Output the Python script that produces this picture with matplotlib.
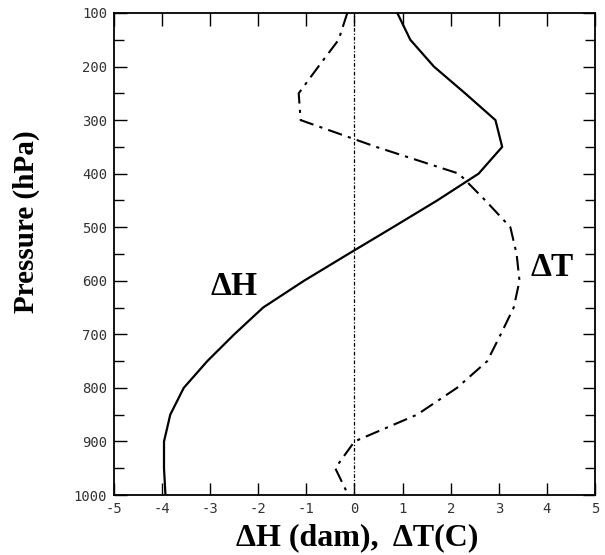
import matplotlib
matplotlib.use('Agg')
import matplotlib.pyplot as plt
from matplotlib.ticker import MultipleLocator

# pressure levels (hPa)
pressure = [100, 150, 200, 250, 300, 350, 400, 450, 500, 550,
            600, 650, 700, 750, 800, 850, 900, 950, 1000]
# height change (dam)
dH = [0.89, 1.16, 1.65, 2.3, 2.93, 3.07, 2.58, 1.72, 0.8, -0.13,
      -1.05, -1.9, -2.5, -3.06, -3.55, -3.83, -3.96, -3.96, -3.93]
# temperature change (C)
dT = [-0.15, -0.33, -0.75, -1.16, -1.12, 0.45, 2.17, 2.72, 3.24, 3.37,
      3.43, 3.31, 3.04, 2.76, 2.13, 1.3, 0.0, -0.4, -0.13]

xticks = [-5, -4, -3, -2, -1, 0, 1, 2, 3, 4, 5]
xticklabels = ['-5', '-4', '-3', '-2', '-1', '0', '1', '2', '3', '4', '5']
yticks = [100, 200, 300, 400, 500, 600, 700, 800, 900, 1000]

serif = ['Liberation Serif', 'DejaVu Serif']

fig = plt.figure(figsize=(6.05, 5.55), dpi=100)
ax = fig.add_axes([0.1884, 0.1081, 0.7951, 0.8685])

ax.plot(dH, pressure, color='black', lw=1.6)
ax.plot(dT, pressure, color='black', lw=1.5, linestyle=(0, (7, 3, 1.5, 3)))
ax.axvline(-0.02, color='black', lw=0.9, linestyle=(0, (3, 1.5, 1, 1.5)))

ax.set_xlim(-5, 5)
ax.set_ylim(1000, 100)
ax.set_xticks(xticks)
ax.set_xticklabels(xticklabels, family='DejaVu Sans Mono', fontsize=10, color='#333333')
ax.set_yticks(yticks)
ax.set_yticklabels([str(v) for v in yticks], family='DejaVu Sans Mono', fontsize=10,
                   color='#333333')
ax.yaxis.set_minor_locator(MultipleLocator(50))

ax.tick_params(which='both', direction='in', top=True, right=True, width=1.0)
ax.tick_params(which='major', length=9, pad=5)
ax.tick_params(which='minor', length=7)

for s in ax.spines.values():
    s.set_linewidth(1.3)

ax.text(-2.5, 610, 'ΔH', family=serif, fontsize=24, fontweight='bold',
        ha='center', va='center')
ax.text(4.1, 575, 'ΔT', family=serif, fontsize=24, fontweight='bold',
        ha='center', va='center')

ax.set_xlabel('ΔH (dam),  ΔT(C)', family=serif, fontsize=23, fontweight='bold',
              va='center')
ax.xaxis.set_label_coords(0.505, -0.089)
ax.set_ylabel('Pressure (hPa)', family=serif, fontsize=21, fontweight='bold',
              va='center')
ax.yaxis.set_label_coords(-0.183, 0.566)

fig.savefig('out.png', dpi=100)
